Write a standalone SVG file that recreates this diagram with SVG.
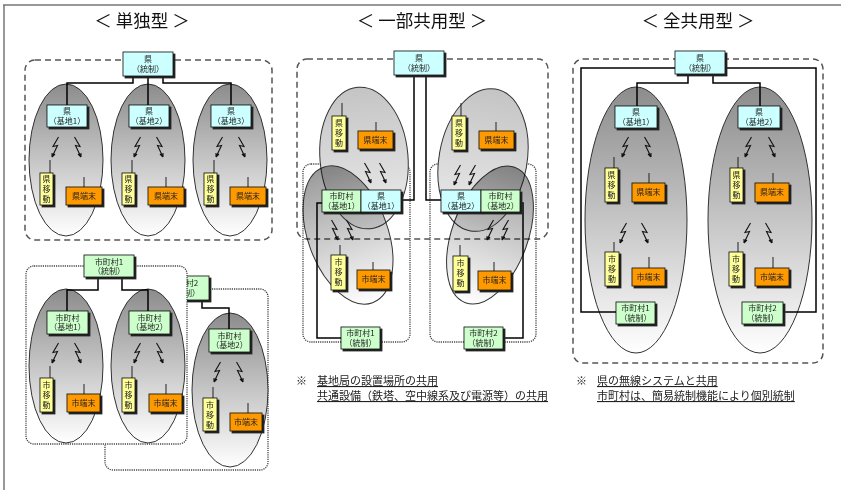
<svg xmlns="http://www.w3.org/2000/svg" xmlns:xlink="http://www.w3.org/1999/xlink" width="841" height="490" viewBox="0 0 841 490">
<style>
.t{font-family:"Noto Sans CJK JP","Noto Sans",sans-serif;font-size:8px;fill:#222;text-anchor:middle}
.ttl{font-family:"Noto Sans CJK JP","Noto Sans",sans-serif;font-size:17.5px;fill:#111;text-anchor:middle}
.note{font-family:"Noto Sans CJK JP","Noto Sans",sans-serif;font-size:11px;fill:#222}
.ken{fill:#ccffff;stroke:#111;stroke-width:0.8;filter:url(#sh)}
.shi{fill:#ccffcc;stroke:#111;stroke-width:0.8;filter:url(#sh)}
.ido{fill:#ffff99;stroke:#111;stroke-width:0.8;filter:url(#sh)}
.tan{fill:#ff9900;stroke:#111;stroke-width:0.8;filter:url(#sh)}
.ln{stroke:#000;stroke-width:1.5;fill:none}
.th{stroke:#222;stroke-width:1;fill:none}
.bolt{stroke:#111;stroke-width:1.1;fill:none}
.dash{fill:none;stroke:#555;stroke-width:1.5;stroke-dasharray:6 4}
.dot{stroke:#444;stroke-width:1.3;stroke-dasharray:1.2 1}
.el{fill:url(#gE);stroke:#333;stroke-width:1}
.elA{fill:url(#gA);stroke:#333;stroke-width:1}
.elB{fill:url(#gB);stroke:#333;stroke-width:1;mix-blend-mode:multiply}
</style>
<defs>
<filter id="sh" x="-20%" y="-20%" width="150%" height="160%"><feDropShadow dx="2" dy="2" stdDeviation="0" flood-color="#222" flood-opacity="1"/></filter>
<linearGradient id="gE" x1="0" y1="0" x2="0" y2="1"><stop offset="0" stop-color="#8c8c8c"/><stop offset="1" stop-color="#fff"/></linearGradient>
<linearGradient id="gB" x1="0" y1="0" x2="0" y2="1"><stop offset="0" stop-color="#9a9a9a"/><stop offset="1" stop-color="#fff"/></linearGradient>
<linearGradient id="gA" x1="0" y1="0" x2="0" y2="1"><stop offset="0" stop-color="#c4c4c4"/><stop offset="1" stop-color="#ededed"/></linearGradient>
<path id="bL" class="bolt" d="M3.5,0 L-2,9.5 L2.5,8.5 L-3,20 M-3,20 L-3,16 M-3,20 L0,17"/>
<path id="bR" class="bolt" d="M-3.5,0 L2,9.5 L-2.5,8.5 L3,20 M3,20 L3,16 M3,20 L0,17"/>
</defs>
<rect width="841" height="490" fill="#fff"/>
<path d="M3,5 H841 M4,5 V490" stroke="#777" stroke-width="1.5" fill="none"/>

<g id="titles">
<text class="ttl" x="142" y="27">＜ 単独型 ＞</text>
<text class="ttl" x="422" y="27">＜ 一部共用型 ＞</text>
<text class="ttl" x="698" y="27">＜ 全共用型 ＞</text>
</g>

<!-- ===== 単独型 top ===== -->
<g id="single-pref">
<rect class="dash" x="25" y="60" width="247" height="180" rx="10"/>
<g id="s-cell1">
<ellipse class="el" cx="66" cy="160" rx="37" ry="76"/>
<use xlink:href="#bL" x="55" y="137"/><use xlink:href="#bR" x="78" y="137"/>
<path class="th" d="M50,160 V173 M84,177 V187"/>
<rect class="ken" x="47" y="105" width="40" height="22"/><text class="t" x="67" y="114">県</text><text class="t" x="67" y="124">（基地1）</text>
<rect class="ido" x="40" y="173" width="13" height="32"/><text class="t" x="46.5" y="182">県</text><text class="t" x="46.5" y="192">移</text><text class="t" x="46.5" y="202">動</text>
<rect class="tan" x="66" y="187" width="36" height="18"/><text class="t" x="84" y="199">県端末</text>
</g>
<g id="s-cell2" transform="translate(82,0)">
<ellipse class="el" cx="66" cy="160" rx="37" ry="76"/>
<use xlink:href="#bL" x="55" y="137"/><use xlink:href="#bR" x="78" y="137"/>
<path class="th" d="M50,160 V173 M84,177 V187"/>
<rect class="ken" x="47" y="105" width="40" height="22"/><text class="t" x="67" y="114">県</text><text class="t" x="67" y="124">（基地2）</text>
<rect class="ido" x="40" y="173" width="13" height="32"/><text class="t" x="46.5" y="182">県</text><text class="t" x="46.5" y="192">移</text><text class="t" x="46.5" y="202">動</text>
<rect class="tan" x="66" y="187" width="36" height="18"/><text class="t" x="84" y="199">県端末</text>
</g>
<g id="s-cell3" transform="translate(164,0)">
<ellipse class="el" cx="66" cy="160" rx="37" ry="76"/>
<use xlink:href="#bL" x="55" y="137"/><use xlink:href="#bR" x="78" y="137"/>
<path class="th" d="M50,160 V173 M84,177 V187"/>
<rect class="ken" x="47" y="105" width="40" height="22"/><text class="t" x="67" y="114">県</text><text class="t" x="67" y="124">（基地3）</text>
<rect class="ido" x="40" y="173" width="13" height="32"/><text class="t" x="46.5" y="182">県</text><text class="t" x="46.5" y="192">移</text><text class="t" x="46.5" y="202">動</text>
<rect class="tan" x="66" y="187" width="36" height="18"/><text class="t" x="84" y="199">県端末</text>
</g>
<g id="s-conn"><path class="ln" d="M133,76 V83 H67 V105 M148,76 V105 M163,76 V83 H231 V105"/></g>
<g id="s-ctrl"><rect class="ken" x="123" y="52" width="50" height="24"/><text class="t" x="148" y="62">県</text><text class="t" x="148" y="72">（統制）</text></g>
</g>

<!-- ===== 単独型 bottom, municipality 2 (behind) ===== -->
<g id="single-muni2">
<rect class="dot" fill="#fff" x="105" y="289" width="163" height="181" rx="8"/>
<ellipse class="el" cx="230" cy="390" rx="38" ry="77"/>
<use xlink:href="#bL" x="217" y="362"/><use xlink:href="#bR" x="240" y="362"/>
<path class="th" d="M213,387 V398 M248,403 V413"/>
<path class="ln" d="M202,300 V308 H229 V329"/>
<rect class="shi" x="209" y="329" width="41" height="23"/><text class="t" x="229.5" y="338.5">市町村</text><text class="t" x="229.5" y="348">（基地2）</text>
<rect class="ido" x="203" y="398" width="14" height="33"/><text class="t" x="210" y="408">市</text><text class="t" x="210" y="418">移</text><text class="t" x="210" y="428">動</text>
<rect class="tan" x="230" y="413" width="32" height="18"/><text class="t" x="246" y="425">市端末</text>
<rect class="shi" x="159" y="276" width="50" height="24"/><text class="t" x="184" y="286">市町村2</text><text class="t" x="184" y="296">（統制）</text>
</g>

<!-- ===== 単独型 bottom, municipality 1 (front) ===== -->
<g id="single-muni1">
<rect class="dot" fill="#fff" x="26" y="266" width="161" height="178" rx="8"/>
<g id="m1-cell1">
<ellipse class="el" cx="66" cy="366" rx="37" ry="77"/>
<use xlink:href="#bL" x="55" y="343"/><use xlink:href="#bR" x="78" y="343"/>
<path class="th" d="M50,366 V378 M84,384 V394"/>
<rect class="shi" x="47" y="311" width="41" height="23"/><text class="t" x="67.5" y="320.5">市町村</text><text class="t" x="67.5" y="330">（基地1）</text>
<rect class="ido" x="40" y="378" width="13" height="34"/><text class="t" x="46.5" y="388">市</text><text class="t" x="46.5" y="398">移</text><text class="t" x="46.5" y="408">動</text>
<rect class="tan" x="67" y="394" width="33" height="18"/><text class="t" x="83.5" y="406">市端末</text>
</g>
<g id="m1-cell2" transform="translate(82,0)">
<ellipse class="el" cx="66" cy="366" rx="37" ry="77"/>
<use xlink:href="#bL" x="55" y="343"/><use xlink:href="#bR" x="78" y="343"/>
<path class="th" d="M50,366 V378 M84,384 V394"/>
<rect class="shi" x="47" y="311" width="41" height="23"/><text class="t" x="67.5" y="320.5">市町村</text><text class="t" x="67.5" y="330">（基地2）</text>
<rect class="ido" x="40" y="378" width="13" height="34"/><text class="t" x="46.5" y="388">市</text><text class="t" x="46.5" y="398">移</text><text class="t" x="46.5" y="408">動</text>
<rect class="tan" x="67" y="394" width="33" height="18"/><text class="t" x="83.5" y="406">市端末</text>
</g>
<g id="m1-conn"><path class="ln" d="M98,277 V290 H67 V311 M122,277 V290 H148 V311"/></g>
<g id="m1-ctrl"><rect class="shi" x="84" y="255" width="50" height="22"/><text class="t" x="109" y="264.5">市町村1</text><text class="t" x="109" y="274">（統制）</text></g>
</g>

<!-- ===== 一部共用型 ===== -->
<g id="partial">
<rect class="dash" x="297" y="59" width="251" height="180" rx="10"/>
<rect class="dot" fill="none" x="303" y="164" width="107" height="178" rx="8"/>
<rect class="dot" fill="none" x="430" y="164" width="106" height="178" rx="8"/>
<ellipse class="elA" cx="364" cy="158" rx="44" ry="71" transform="rotate(-5 364 158)"/>
<ellipse class="elA" cx="483" cy="160" rx="44" ry="72" transform="rotate(10 483 160)"/>
<ellipse class="elB" cx="348" cy="235" rx="40" ry="72" transform="rotate(-20 348 235)"/>
<ellipse class="elB" cx="490" cy="235" rx="38" ry="72" transform="rotate(20 490 235)"/>
<g id="p-bolts">
<use xlink:href="#bR" x="368" y="163"/><use xlink:href="#bR" x="383" y="163"/>
<use xlink:href="#bL" x="457" y="165"/><use xlink:href="#bL" x="472" y="165"/>
<use xlink:href="#bR" x="335" y="220"/><use xlink:href="#bR" x="350" y="220"/>
<use xlink:href="#bL" x="490" y="220"/><use xlink:href="#bL" x="505" y="220"/>
</g>
<path class="th" d="M342,103 V116 M376,122 V131 M461,103 V116 M496,122 V131 M340,245 V255 M373,262 V270 M460,245 V256 M494,262 V271"/>
<g id="p-conn"><path class="ln" d="M414,75 V200 H401 M426,75 V200 H441 M322,203 H317 V338 H341 M520,203 H523 V338 H503"/></g>
<g id="p-ken-ido1"><rect class="ido" x="332" y="116" width="14" height="34"/><text class="t" x="339" y="126">県</text><text class="t" x="339" y="136">移</text><text class="t" x="339" y="146">動</text></g>
<g id="p-ken-tan1"><rect class="tan" x="358" y="131" width="35" height="18"/><text class="t" x="375.5" y="143">県端末</text></g>
<g id="p-ken-ido2"><rect class="ido" x="452" y="116" width="14" height="34"/><text class="t" x="459" y="126">県</text><text class="t" x="459" y="136">移</text><text class="t" x="459" y="146">動</text></g>
<g id="p-ken-tan2"><rect class="tan" x="479" y="131" width="35" height="18"/><text class="t" x="496.5" y="143">県端末</text></g>
<g id="p-shi-base1"><rect class="shi" x="322" y="190" width="39" height="22"/><text class="t" x="341.5" y="199">市町村</text><text class="t" x="341.5" y="209">（基地1）</text></g>
<g id="p-ken-base1"><rect class="ken" x="361" y="190" width="40" height="22"/><text class="t" x="381" y="199">県</text><text class="t" x="381" y="209">（基地1）</text></g>
<g id="p-ken-base2"><rect class="ken" x="441" y="190" width="40" height="22"/><text class="t" x="461" y="199">県</text><text class="t" x="461" y="209">（基地2）</text></g>
<g id="p-shi-base2"><rect class="shi" x="481" y="190" width="39" height="22"/><text class="t" x="500.5" y="199">市町村</text><text class="t" x="500.5" y="209">（基地2）</text></g>
<g id="p-shi-ido1"><rect class="ido" x="331" y="255" width="15" height="35"/><text class="t" x="338.5" y="265">市</text><text class="t" x="338.5" y="275">移</text><text class="t" x="338.5" y="285">動</text></g>
<g id="p-shi-tan1"><rect class="tan" x="357" y="270" width="33" height="19"/><text class="t" x="373.5" y="282">市端末</text></g>
<g id="p-shi-ido2"><rect class="ido" x="453" y="256" width="15" height="35"/><text class="t" x="460.5" y="266">市</text><text class="t" x="460.5" y="276">移</text><text class="t" x="460.5" y="286">動</text></g>
<g id="p-shi-tan2"><rect class="tan" x="478" y="271" width="33" height="19"/><text class="t" x="494.5" y="283">市端末</text></g>
<g id="p-ctrl"><rect class="ken" x="394" y="51" width="50" height="24"/><text class="t" x="419" y="61">県</text><text class="t" x="419" y="71">（統制）</text></g>
<g id="p-m1ctrl"><rect class="shi" x="341" y="327" width="39" height="22"/><text class="t" x="360.5" y="336">市町村1</text><text class="t" x="360.5" y="346">（統制）</text></g>
<g id="p-m2ctrl"><rect class="shi" x="464" y="327" width="39" height="22"/><text class="t" x="483.5" y="336">市町村2</text><text class="t" x="483.5" y="346">（統制）</text></g>
</g>

<!-- ===== 全共用型 ===== -->
<g id="full">
<rect class="dash" x="573" y="59" width="250" height="304" rx="10"/>
<ellipse class="el" cx="636" cy="220" rx="51" ry="133"/>
<ellipse class="el" cx="760" cy="220" rx="52" ry="133"/>
<g id="f-bolts">
<use xlink:href="#bL" x="625" y="137"/><use xlink:href="#bR" x="648" y="137"/>
<use xlink:href="#bL" x="623" y="223"/><use xlink:href="#bR" x="645" y="223"/>
<use xlink:href="#bL" x="748" y="137"/><use xlink:href="#bR" x="772" y="137"/>
<use xlink:href="#bL" x="747" y="223"/><use xlink:href="#bR" x="769" y="223"/>
</g>
<path class="th" d="M614,157 V168 M649,173 V183 M614,242 V252 M649,257 V268 M738,157 V168 M773,173 V183 M738,242 V252 M773,257 V268"/>
<g id="f-conn"><path class="ln" d="M675,68 H581 V312 H616 M725,68 H816 V312 H783 M688,74 V83 H637 V106 M713,74 V83 H760 V106"/></g>
<g id="f-ctrl"><rect class="ken" x="675" y="51" width="50" height="23"/><text class="t" x="700" y="61">県</text><text class="t" x="700" y="71">（統制）</text></g>
<g id="f-base1"><rect class="ken" x="615" y="106" width="42" height="22"/><text class="t" x="636" y="115">県</text><text class="t" x="636" y="125">（基地1）</text></g>
<g id="f-base2"><rect class="ken" x="738" y="106" width="42" height="22"/><text class="t" x="759" y="115">県</text><text class="t" x="759" y="125">（基地2）</text></g>
<g id="f-kido1"><rect class="ido" x="605" y="168" width="13" height="34"/><text class="t" x="611.5" y="178">県</text><text class="t" x="611.5" y="188">移</text><text class="t" x="611.5" y="198">動</text></g>
<g id="f-ktan1"><rect class="tan" x="632" y="183" width="33" height="19"/><text class="t" x="648.5" y="195">県端末</text></g>
<g id="f-kido2"><rect class="ido" x="730" y="168" width="13" height="34"/><text class="t" x="736.5" y="178">県</text><text class="t" x="736.5" y="188">移</text><text class="t" x="736.5" y="198">動</text></g>
<g id="f-ktan2"><rect class="tan" x="755" y="183" width="34" height="19"/><text class="t" x="772" y="195">県端末</text></g>
<g id="f-sido1"><rect class="ido" x="605" y="252" width="14" height="34"/><text class="t" x="612" y="262">市</text><text class="t" x="612" y="272">移</text><text class="t" x="612" y="282">動</text></g>
<g id="f-stan1"><rect class="tan" x="632" y="268" width="33" height="18"/><text class="t" x="648.5" y="280">市端末</text></g>
<g id="f-sido2"><rect class="ido" x="729" y="252" width="14" height="34"/><text class="t" x="736" y="262">市</text><text class="t" x="736" y="272">移</text><text class="t" x="736" y="282">動</text></g>
<g id="f-stan2"><rect class="tan" x="755" y="268" width="34" height="18"/><text class="t" x="772" y="280">市端末</text></g>
<g id="f-m1ctrl"><rect class="shi" x="616" y="302" width="39" height="22"/><text class="t" x="635.5" y="311">市町村1</text><text class="t" x="635.5" y="321">（統制）</text></g>
<g id="f-m2ctrl"><rect class="shi" x="742" y="302" width="41" height="22"/><text class="t" x="762.5" y="311">市町村2</text><text class="t" x="762.5" y="321">（統制）</text></g>
</g>

<g id="notes">
<text class="note" x="296" y="385">※</text>
<text class="note" x="317" y="385" text-decoration="underline">基地局の設置場所の共用</text>
<text class="note" x="317" y="400" text-decoration="underline">共通設備（鉄塔、空中線系及び電源等）の共用</text>
<text class="note" x="576" y="385">※</text>
<text class="note" x="597" y="385" text-decoration="underline">県の無線システムと共用</text>
<text class="note" x="597" y="400" text-decoration="underline">市町村は、簡易統制機能により個別統制</text>
</g>
</svg>
